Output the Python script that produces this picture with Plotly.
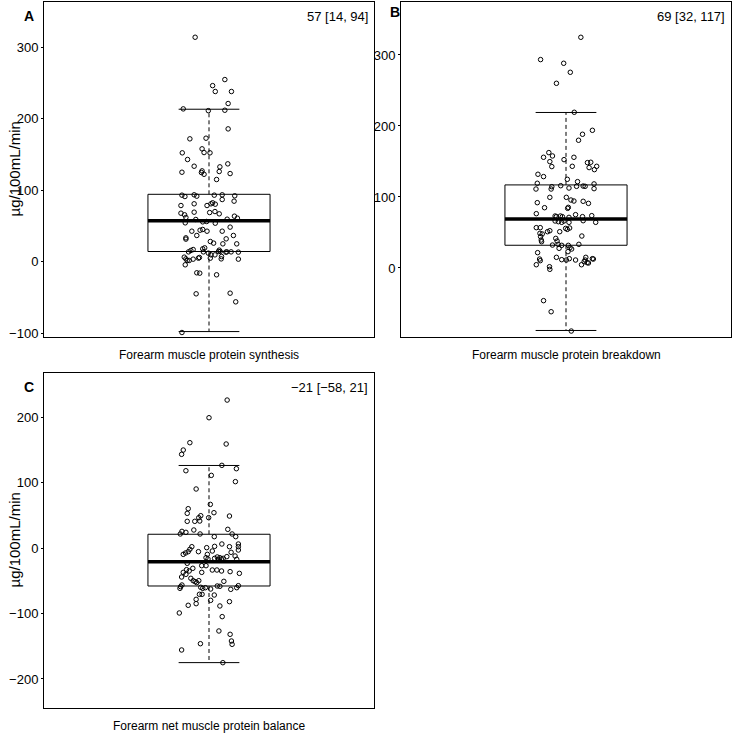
import plotly.graph_objects as go

# ---------------- data ----------------
panel_letters = ["A", "B", "C"]
x_labels = ["Forearm muscle protein synthesis",
            "Forearm muscle protein breakdown",
            "Forearm net muscle protein balance"]
summary_text = ["57 [14, 94]", "69 [32, 117]", "\u221221 [\u221258, 21]"]
y_title = "\u00b5g/100mL/min"

# box statistics: lower whisker, Q1, median, Q3, upper whisker
lower_whisker = [-98, -88, -175]
q1 = [14, 32, -58]
median = [57, 69, -21]
q3 = [94, 117, 21]
upper_whisker = [213, 219, 126]

y_ranges = [[-105.6, 363], [-97.2, 374.6], [-244.3, 267.2]]
y_ticks = [[-100, 0, 100, 200, 300], [0, 100, 200, 300], [-200, -100, 0, 100, 200]]

# individual observations (value, horizontal jitter)
synthesis_y = [313.7, 254.5, 246, 237.8, 237.8, 221, 213.5, 211, 211.6, 185.5, 171.6, 172.5, 152, 157.6,
               152.4, 152, 142.7, 133.3, 136.6, 132.4, 126.8, 125.9, 123, 124.5, 122, 124.9, 114.7,
               92.8, 90.9, 93.3, 91.4, 92.8, 93.3, 91.9, 86.7, 84.4, 78.3, 80.7, 78.3, 80.7, 82.1, 80.2,
               68.5, 69.9, 66.7, 67.6, 65.3, 69.0, 61.6, 54.1, 58.8, 55.5, 56, 53.6, 59.2, 63.4, 60.6,
               42.4, 36.4, 43.8, 44.8, 42.4, 42.4, 48.1, 33.1, 31.3, 28, 25.7, 31.7, 36.4, 24.7, 24.7,
               13.5, 15.4, 16.8, 17.7, 19.1, 13.5, 11.7, 9.3, 9.3, 14, 15.9, 14, 13.1, 13.5, 13.5, 13.1,
               7, 3.7, 3.3, 6.1, 3.7, 1.4, 1.4, 3.3, 4.7, 5.6, -4.6, 4.7, -15.8, -16.3, -18.6,
               -45.2, -44.3, -56.4, -99.3]
synthesis_jit = [-0.042, 0.048, 0.011, 0.019, 0.068, 0.058, -0.078, -0.002, 0.048, 0.058, -0.058, -0.009,
                 -0.081, -0.021, -0.015, 0.003, -0.065, -0.045, 0.057, 0.033, -0.021, 0.031, 0.064, -0.023,
                 -0.015, -0.082, 0.023,
                 -0.082, -0.073, -0.045, -0.037, 0.016, 0.040, 0.078, 0.040, 0.076, -0.085, -0.045, -0.006,
                 0.006, 0.011, 0.019, 0.002, 0.018, 0.031, -0.085, -0.074, -0.045, -0.070, -0.072, -0.040,
                 -0.019, -0.007, 0.019, 0.055, 0.077, 0.086,
                 -0.052, -0.037, -0.027, -0.019, -0.006, 0.040, 0.064, -0.070, -0.070, 0.004, 0.014, 0.052,
                 0.074, 0.042, 0.084,
                 -0.062, -0.055, -0.048, -0.019, -0.013, -0.017, -0.002, 0.006, 0.018, 0.029, 0.031, 0.034,
                 0.051, 0.054, 0.067, 0.089, 0.038, 0.037, 0.089, -0.075, -0.070, -0.066, -0.060, -0.048,
                 -0.032, -0.029, -0.072, 0.004, -0.037, -0.028, 0.023,
                 -0.039, 0.064, 0.081, -0.082]

breakdown_y = [324.9, 293.5, 288.3, 275.6, 260.1, 219.3, 193.9, 188.3, 179.9, 162.5, 157.8, 155.9, 149.8,
               142.8, 152.6, 155.9, 143.2, 148.4, 148.9, 141.4, 138.5, 143.2, 132, 128.7, 119.3, 124.9,
               121.6, 118.4,
               111.2, 114.5, 111.2, 115.9, 112.6, 115, 115.4, 115, 111.7, 99.5, 92, 84.9, 99.5, 95.7, 94.3,
               93.9, 91, 84, 85.4, 76.5, 73.2, 72.3, 73.2, 72.3, 71.3, 75.1, 72.3, 73.7, 66.2, 65.2, 64.3,
               66.2, 64.3, 66.6, 64.3, 56.8, 56.8, 48.8, 47.9, 51.1, 52.5, 51.1, 55.8, 54.4, 56.3, 45,
               44.1, 39.4, 37, 41.7, 38, 32.3, 33.3, 31.9, 31.9, 28.6, 26.7, 33.3, 27.7, 21.6, 23,
               12.6, 10.3, 4.6, 15, 11.7, 11.2, 13.1, 11.2, 4.6, 15, 11.2, 7.5, 7, 13.1, 12.6, 8.9,
               1.8, -1.9, -46, -61.6, -88.8]
breakdown_jit = [0.045, -0.077, -0.007, 0.013, -0.029, 0.025, 0.080, 0.050, 0.038, -0.052, -0.041, -0.068,
                 -0.049, -0.043, -0.006, 0.024, 0.019, 0.065, 0.075, 0.070, 0.086, 0.093, -0.085, -0.068,
                 -0.087, 0.004, 0.035, 0.085,
                 -0.091, -0.043, -0.045, -0.016, 0.009, 0.032, 0.052, 0.058, 0.085, -0.049, -0.087, -0.065,
                 0.001, 0.015, 0.024, 0.052, 0.068, 0.005, 0.007, -0.090, -0.033, -0.029, -0.017, -0.011,
                 0.009, 0.029, 0.050, 0.078, -0.033, -0.023, -0.013, -0.006, 0.009, 0.052, 0.090, -0.090,
                 -0.078, -0.079, -0.072, -0.056, -0.049, -0.019, -0.001, 0.004, 0.011, 0.048,
                 -0.077, -0.075, -0.074, -0.031, -0.027, -0.041, -0.024, -0.013, 0.007, 0.012, 0.017, 0.039,
                 -0.021, -0.086, 0.006,
                 -0.080, -0.078, -0.090, -0.029, -0.013, 0.001, 0.010, 0.029, 0.047, 0.060, 0.058, 0.064,
                 0.068, 0.080, 0.083, 0.055,
                 -0.050, -0.049, -0.068, -0.045, 0.016]

balance_y = [225.9, 198.9, 160.8, 158.8, 149.6, 143, 126.2, 121.1, 118, 110.9, 101.3, 90.1, 66.6, 60, 53.9,
             52.9, 49.3, 46.3, 46.3, 48.8, 40.7, 41.2, 40.7, 28.5, 27.5, 25.4, 23.9, 21.4, 21.4, 21.4, 17.3,
             17.3, 6.1, 2.0, 6.1, 2.0, 0.5, 2.5, 2, -2,
             -9.7, -7.6, -5.6, -5.6, -9.7, -4.6, -14.8, -16.8, -15.8, -13.7, -14.8, -16.8, -15.8, -17.8,
             -13.2, -6.6, -12.2, -3.1, -17.3, -23.4, -33.1, -35.1, -31, -37.2, -40.2, -44.3, -46.3, -49.9,
             -51.4, -49.9, -52.9, -27, -27, -37.2, -33.6, -33.6, -35.1, -36.1, -38.7, -50.9, -59, -56.5,
             -61.6, -60, -61.6, -60.6, -62.6, -58, -58.5, -63.1, -60.6, -57.5, -70.7, -70.7, -71.8, -78.4,
             -85, -79.9, -87.5, -88.5, -81.9, -99.2, -104.8, -126.7, -131.8, -142, -147.1, -146.1,
             -155.7, -175.1]
balance_jit = [0.055, 0.000, -0.058, 0.052, -0.078, -0.083, 0.039, 0.083, -0.070, 0.007, 0.080, -0.039,
               0.004, -0.063, 0.015, -0.066, -0.025, -0.031, -0.001, 0.062, -0.043, -0.028, -0.066, 0.057,
               -0.046, -0.082, -0.070, -0.087, -0.027, 0.070, 0.081, 0.016, 0.039, 0.062, 0.089, 0.089,
               -0.007, 0.017, -0.052, -0.058,
               -0.078, -0.071, -0.063, -0.032, -0.005, 0.010, -0.009, -0.003, 0.017, 0.025, 0.033, 0.038,
               0.043, 0.028, 0.054, 0.067, 0.079, 0.089, 0.084, -0.066, -0.068, -0.060, -0.049, -0.078,
               -0.070, -0.083, -0.055, -0.048, -0.042, -0.031, -0.037, -0.022, -0.009, -0.022, 0.010, 0.024,
               0.038, 0.064, 0.092, 0.045, -0.086, -0.082, -0.088, -0.025, -0.019, -0.011, 0.005, 0.025,
               0.033, 0.066, 0.084, 0.089, -0.029, -0.021, 0.016, -0.039, -0.039, 0.005, -0.063, 0.033,
               0.062, -0.090, 0.040, 0.030, 0.064, 0.068, 0.070, -0.026, -0.083, 0.042]

points_y = [synthesis_y, breakdown_y, balance_y]
points_jit = [synthesis_jit, breakdown_jit, balance_jit]

# ---------------- layout helpers ----------------
W, H = 735, 739
panel_px = [(44, 374, 2, 337), (401, 731, 2, 337), (44, 374, 373, 708)]  # left, right, top, bottom
BOX_HALF = 0.185
CAP_HALF = 0.092
CENTER = 1.0
FONT = "Liberation Sans, Arial, Helvetica, sans-serif"

fig = go.Figure()
layout = dict(width=W, height=H, margin=dict(l=0, r=0, t=0, b=0, pad=0, autoexpand=False),
              paper_bgcolor="white", plot_bgcolor="white", showlegend=False,
              font=dict(family=FONT, size=13, color="black"))
annotations = []

for i in range(3):
    xa = "x" if i == 0 else f"x{i+1}"
    ya = "y" if i == 0 else f"y{i+1}"
    l, r, t, b = panel_px[i]
    xkey = "xaxis" if i == 0 else f"xaxis{i+1}"
    ykey = "yaxis" if i == 0 else f"yaxis{i+1}"
    layout[xkey] = dict(domain=[l / W, r / W], range=[0.5, 1.5], anchor=ya, automargin=False,
                        showgrid=False, zeroline=False, showticklabels=False, ticks="",
                        showline=True, linecolor="black", linewidth=1, mirror=True, fixedrange=True)
    layout[ykey] = dict(domain=[1 - b / H, 1 - t / H], range=y_ranges[i], anchor=xa, automargin=False,
                        tickvals=y_ticks[i], ticktext=[str(v).replace("-", "\u2212") for v in y_ticks[i]],
                        showgrid=False, zeroline=False, ticks="outside", ticklen=2, tickwidth=1,
                        tickcolor="black", tickfont=dict(size=13, family=FONT, color="black"),
                        showline=True, linecolor="black", linewidth=1, mirror=True, fixedrange=True)

    lo, a, m, c, hi = lower_whisker[i], q1[i], median[i], q3[i], upper_whisker[i]
    line_kw = dict(mode="lines", xaxis=xa, yaxis=ya, hoverinfo="skip")
    # whiskers (dashed)
    fig.add_trace(go.Scatter(x=[CENTER, CENTER, None, CENTER, CENTER], y=[c, hi, None, a, lo],
                             line=dict(color="black", width=1, dash="4px,3px"), **line_kw))
    # caps
    fig.add_trace(go.Scatter(x=[CENTER - CAP_HALF, CENTER + CAP_HALF, None, CENTER - CAP_HALF, CENTER + CAP_HALF],
                             y=[hi, hi, None, lo, lo], line=dict(color="black", width=1), **line_kw))
    # box
    fig.add_trace(go.Scatter(x=[CENTER - BOX_HALF, CENTER + BOX_HALF, CENTER + BOX_HALF, CENTER - BOX_HALF, CENTER - BOX_HALF],
                             y=[a, a, c, c, a], line=dict(color="black", width=1), **line_kw))
    # median
    fig.add_trace(go.Scatter(x=[CENTER - BOX_HALF, CENTER + BOX_HALF], y=[m, m],
                             line=dict(color="black", width=3.5), **line_kw))
    # points
    fig.add_trace(go.Scatter(x=[CENTER + j for j in points_jit[i]], y=points_y[i], mode="markers",
                             xaxis=xa, yaxis=ya,
                             marker=dict(symbol="circle-open", size=4.5, color="black", line=dict(width=1, color="black"))))

    # summary text top-right
    annotations.append(dict(text=summary_text[i], xref="paper", yref="paper",
                            x=(r - 4) / W, y=1 - (t + 14) / H, xanchor="right", yanchor="middle",
                            showarrow=False, font=dict(size=13, family=FONT)))
    # panel letter
    lx = 29 if i != 1 else 395
    ly = t + 14 if i != 1 else t + 10
    annotations.append(dict(text=f"<b>{panel_letters[i]}</b>", xref="paper", yref="paper",
                            x=lx / W, y=1 - ly / H, xanchor="center", yanchor="middle",
                            showarrow=False, font=dict(size=14, family=FONT)))
    # x label
    annotations.append(dict(text=x_labels[i], xref="paper", yref="paper",
                            x=(l + r) / 2 / W, y=1 - (b + 18) / H, xanchor="center", yanchor="middle",
                            showarrow=False, font=dict(size=12, family=FONT)))
    # y title (panels A and C)
    if i != 1:
        annotations.append(dict(text=y_title, xref="paper", yref="paper", textangle=-90,
                                x=14 / W, y=1 - (t + b) / 2 / H, xanchor="center", yanchor="middle",
                                showarrow=False, font=dict(size=15, family=FONT)))

layout["annotations"] = annotations
fig.update_layout(**layout)
fig.write_html("out.html", config={"displayModeBar": False},
               post_script="document.body.style.margin='0px';")
